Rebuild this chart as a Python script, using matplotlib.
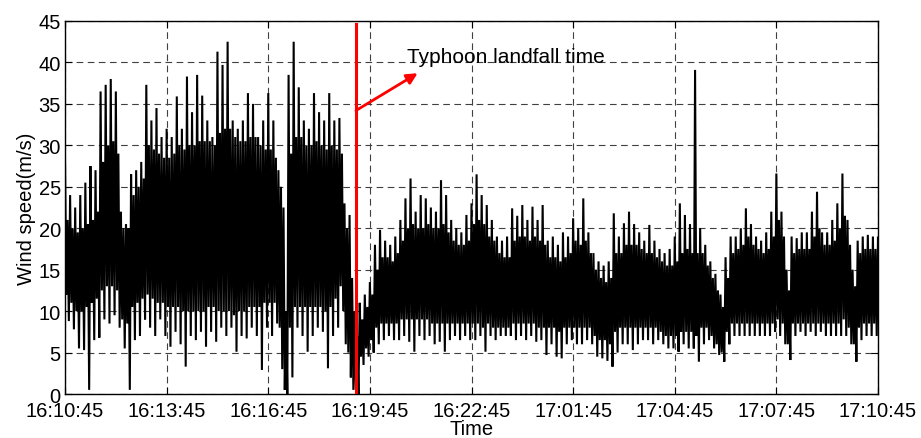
import numpy as np
import matplotlib
matplotlib.use("Agg")
import matplotlib.pyplot as plt

plt.rcParams["font.family"] = ["Liberation Sans", "DejaVu Sans"]

# Tick positions (minutes into the record) and their clock labels
tick_minutes = [0, 3, 6, 9, 12, 15, 18, 21, 24]
tick_labels = ["16:10:45", "16:13:45", "16:16:45", "16:19:45", "16:22:45",
               "17:01:45", "17:04:45", "17:07:45", "17:10:45"]

# Wind speed (m/s) summarised every 0.15 min: gust peaks, lulls, and the dense band
peak_hi = [
    28, 24, 22.5, 24, 25.5, 27.5, 27, 36.5, 37.3, 38, 36.5, 22, 20.5, 26.5, 27, 28, 37.3, 33, 34.5, 31,
    32, 31, 35.9, 32, 38.3, 34, 38.5, 36, 33, 31, 41.3, 39.7, 42.5, 33, 32, 33, 36.3, 35, 31, 33,
    36.3, 33, 27, 22.5, 38.5, 42.5, 37, 33, 32, 36.3, 34, 33, 36.3, 33, 33.3, 23, 21.6, 10, 11, 12,
    13.5, 18, 19.8, 18.5, 18, 19, 21, 23.6, 26, 22, 24, 23.6, 22.5, 22, 25.8, 24, 21, 20, 19.5, 21.6,
    23, 26.5, 24, 22.8, 21, 19, 18.5, 19, 22.4, 21.5, 22.8, 21, 22.6, 21, 22.8, 18.5, 19, 18, 19.5, 19,
    21.2, 20, 23.6, 19.5, 17, 16, 15.5, 16, 21.8, 19, 20.6, 22, 20.5, 19.5, 18.5, 20.4, 18.5, 17.5, 17, 17.5,
    19, 23, 21.6, 20.5, 39.1, 20, 18, 16, 14.5, 12, 16.5, 19, 19, 20, 22.4, 20.5, 19, 18.5, 19.5, 22,
    26.6, 22, 15, 19, 18.8, 19.5, 19.5, 22, 24.4, 19.5, 19.5, 21, 23, 26.6, 21, 15, 18.5, 19, 19.2, 19,
    19,
]
peak_lo = [
    8.8, 7.8, 5.5, 5.3, 0.5, 6.5, 6.8, 9, 8.5, 9.5, 8, 5.5, 0.5, 6.5, 7, 9, 8, 7, 9, 7,
    5.7, 7.5, 6, 3.3, 7, 6.5, 7.5, 5.7, 7.5, 6.3, 8, 7, 8, 5.1, 7, 6.7, 8, 7, 2.9, 8,
    7, 8.5, 3, 0, 2, 8, 7, 5.1, 7, 8, 7.5, 3.1, 7, 8, 10, 5, 0.5, 0, 3.5, 4.5,
    5, 6, 6.5, 7, 6.5, 6.5, 7, 6.3, 5.1, 7, 6.5, 7, 6, 6.3, 5.1, 6.5, 7, 6.5, 7, 6.5,
    6.5, 7, 5.1, 7, 6.5, 7, 7, 7, 6.5, 7, 6.5, 7, 6.3, 6.5, 4.7, 6, 4.5, 4.3, 6, 6.5,
    6, 6, 6.5, 6, 4.5, 4.3, 4, 3.3, 5, 6, 6, 5.3, 6, 6.5, 6.5, 6, 6.5, 6, 5.5, 5.5,
    5.1, 6, 5.5, 5.5, 3.9, 6, 6.5, 5.5, 4.7, 3.9, 6, 7, 7, 7, 7, 7, 7, 7, 7, 7.5,
    7, 6, 4.1, 7, 7.5, 7, 7.5, 7, 7.5, 7, 7, 7, 7, 7, 6, 3.9, 6.5, 7, 7, 7,
    7.5,
]
band_hi = [
    21, 20, 19.5, 20, 20.5, 21, 22, 28, 30, 30.5, 29, 20, 20, 24, 25, 26, 30, 29.5, 29, 28.5,
    28.5, 29, 30, 29.5, 30, 30, 30.5, 30.5, 30.5, 30, 31.5, 32, 32, 31, 30.5, 30.5, 31, 31, 30, 29.5,
    29.5, 28.5, 25, 10, 29, 31, 31, 30, 30, 30.5, 30, 29.5, 30, 29.5, 29, 20, 14, 7, 9, 10.5,
    12, 15, 16.5, 16.5, 16, 17, 18.5, 20, 20.5, 20, 20, 20.5, 20, 20, 20.5, 19.5, 18.5, 18, 18, 18.5,
    20.5, 21, 20.5, 19, 18.5, 17, 16.5, 16.5, 18.5, 19, 19, 18.5, 19, 18.5, 18, 16.5, 16.5, 16, 16.5, 17,
    18.5, 18, 18.5, 17, 15, 14, 13.5, 14, 17, 17, 18, 18, 18, 17.5, 17, 17, 16.5, 16, 15.5, 15.5,
    16, 17, 17.5, 17, 17, 17, 15.5, 14, 12.5, 10.5, 14, 17, 17.5, 18, 19, 18, 17.5, 17, 17.5, 19,
    21, 19, 12.5, 17, 17.5, 17.5, 17.5, 19, 20, 18, 18, 18.5, 20, 21.5, 18, 13, 17, 17.5, 17.5, 17.5,
    17.5,
]
band_lo = [
    12, 11, 10, 10, 10.5, 11, 11.5, 12.5, 13, 13, 12.5, 9, 8.5, 10.5, 11, 11.5, 12, 11.5, 11, 11,
    10.5, 10.5, 10.5, 10, 10, 10, 10, 10, 10.5, 10.5, 10, 10, 10, 9.5, 10, 10, 10.5, 10.5, 10.5, 11,
    11, 11, 8, 0.5, 8, 10.5, 10.5, 10.5, 10.5, 10.5, 10.5, 10, 10.5, 11.5, 13, 6, 2, 0.5, 4.5, 5.5,
    6.5, 8, 8.5, 8.5, 8.5, 8.5, 9, 9, 9, 9, 9, 9, 8.5, 8.5, 8.5, 8.5, 8.5, 8.5, 8.5, 8.5,
    8.5, 8.5, 8, 8.5, 8, 8, 8, 8, 8.5, 8.5, 8.5, 8.5, 8.5, 8, 8, 8, 8, 7.5, 8, 8,
    8, 8, 8, 8, 7, 6.5, 6.5, 6, 7.5, 8, 8, 8, 8, 8, 8, 8, 8, 7.5, 7, 7,
    7, 7.5, 7.5, 7.5, 7, 8, 8, 7, 6, 5, 7.5, 8.5, 8.5, 8.5, 8.5, 8.5, 8.5, 8.5, 8.5, 8.5,
    9, 8.5, 6, 8.5, 8.5, 8.5, 8.5, 8.5, 8.5, 8.5, 8.5, 8.5, 8.5, 9, 8, 6, 8, 8.5, 8.5, 8.5,
    8.5,
]

# Landfall marker and its annotation
landfall_minute = 8.59
landfall_top = 44.6
arrow_tail = (8.59, 34.2)
arrow_head = (10.41, 38.7)
label_pos = (10.11, 40.0)
label_text = "Typhoon landfall time"

step = 0.15
t = np.arange(len(peak_hi)) * step

# Each 0.15-min interval is traced as gust peak -> band low -> band high -> lull
n = len(t)
t_trace = np.empty(4 * n)
v_trace = np.empty(4 * n)
for k, series in enumerate([peak_hi, band_lo, band_hi, peak_lo]):
    t_trace[k::4] = t + k * step / 4
    v_trace[k::4] = series

fig = plt.figure(figsize=(9.21, 4.39), dpi=100)
ax = fig.add_axes([0.0706, 0.1002, 0.8827, 0.8497])

ax.plot(t_trace, v_trace, color="black", lw=1.5, zorder=3, solid_joinstyle="miter")

ax.plot([landfall_minute, landfall_minute], [0, landfall_top], color="red", lw=2.2, zorder=4)
ax.annotate("", xy=arrow_head, xytext=arrow_tail,
            arrowprops=dict(arrowstyle="-|>", color="red", lw=2.0, mutation_scale=16,
                            shrinkA=0, shrinkB=0), zorder=5)
ax.text(label_pos[0], label_pos[1], label_text, fontsize=15, ha="left", va="baseline")

ax.set_xlim(0, 24)
ax.set_ylim(0, 45)
ax.set_xticks(tick_minutes)
ax.set_xticklabels(tick_labels)
ax.set_yticks(np.arange(0, 46, 5))
ax.tick_params(direction="in", length=5, width=0.8, labelsize=14.5, top=True, right=True)
ax.tick_params(axis="x", pad=5)
ax.tick_params(axis="y", pad=3)
ax.grid(True, color="0.25", linestyle=(0, (6, 4)), lw=0.8)
ax.set_axisbelow(True)
for s in ax.spines.values():
    s.set_linewidth(1.0)

ax.set_xlabel("Time", fontsize=14.5, labelpad=-1)
ax.set_ylabel("Wind speed(m/s)", fontsize=14.5, labelpad=2)

fig.savefig("out.png", dpi=100)
